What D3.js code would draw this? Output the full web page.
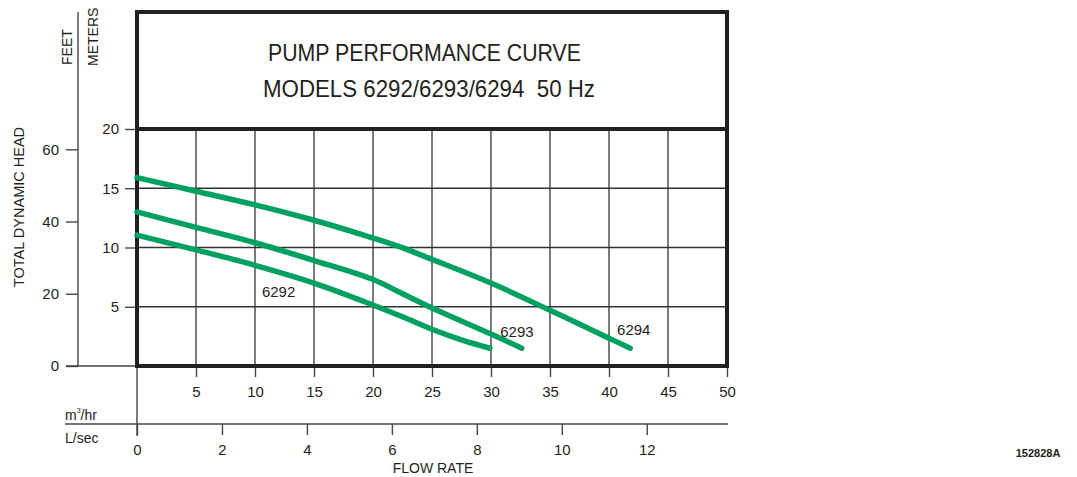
<!DOCTYPE html>
<html>
<head>
<meta charset="utf-8">
<script src="https://cdn.jsdelivr.net/npm/d3@7"></script>
<style>
  body { margin: 0; background: #fff; }
  svg { display: block; font-family: "Liberation Sans", Arial, sans-serif; }
  text { fill: #231f20; }
</style>
</head>
<body>
<div id="chart"></div>
<script>
// flow in m3/hr, head in meters
const models = ['6292', '6293', '6294'];
const flow6292 = [0, 5, 10, 15, 20, 22.5, 25, 27.5, 29.9];
const head6292 = [11.05, 9.8, 8.5, 7.0, 5.15, 4.15, 3.1, 2.2, 1.5];
const flow6293 = [0, 5, 10, 15, 20, 22.3, 25, 30, 32.6];
const head6293 = [13.0, 11.7, 10.4, 8.9, 7.3, 6.2, 4.9, 2.7, 1.5];
const flow6294 = [0, 5, 10, 15, 20, 22.3, 25, 30, 35, 40, 41.8];
const head6294 = [15.9, 14.75, 13.6, 12.3, 10.8, 10.05, 9.0, 7.0, 4.7, 2.35, 1.5];

const meterTicks = [5, 10, 15, 20];
const feetTicks = [0, 20, 40, 60];
const flowTicks = [5, 10, 15, 20, 25, 30, 35, 40, 45, 50];
const lsecTicks = [0, 2, 4, 6, 8, 10, 12];

const width = 1077;
const height = 477;
const ink = '#231f20';
const green = '#00a160';

const svg = d3.select('#chart').append('svg')
  .attr('width', width)
  .attr('height', height);

const frame = { left: 137, right: 727, top: 12, grid: 129, bottom: 366 };

const x = d3.scaleLinear().domain([0, 50]).range([frame.left, frame.right]);
const xL = d3.scaleLinear().domain([0, 50 / 3.6]).range([frame.left, frame.right]);
const yM = d3.scaleLinear().domain([0, 20]).range([frame.bottom, frame.grid]);
const yF = d3.scaleLinear().domain([0, 20 / 0.3048]).range([frame.bottom, frame.grid]);

const styleAxis = g => {
  g.select('.domain').remove();
  g.selectAll('.tick line').attr('stroke', '#444').attr('stroke-width', 1.4);
  g.selectAll('.tick text')
    .attr('fill', ink)
    .attr('font-size', 15)
    .attr('font-family', '"Liberation Sans", Arial, sans-serif');
};

// grid
const grid = svg.append('g').attr('stroke', '#333').attr('stroke-width', 1.3);
grid.selectAll('.vg')
  .data(flowTicks.slice(0, -1))
  .join('line')
  .attr('x1', d => x(d)).attr('x2', d => x(d))
  .attr('y1', frame.grid).attr('y2', frame.bottom);
grid.selectAll('.hg')
  .data(meterTicks.slice(0, -1))
  .join('line')
  .attr('x1', frame.left).attr('x2', frame.right)
  .attr('y1', d => yM(d)).attr('y2', d => yM(d));

// feet axis
svg.append('line')
  .attr('x1', 78).attr('x2', 78).attr('y1', 12).attr('y2', frame.bottom)
  .attr('stroke', '#444').attr('stroke-width', 1.4);
svg.append('line')
  .attr('x1', 66).attr('x2', frame.left).attr('y1', frame.bottom).attr('y2', frame.bottom)
  .attr('stroke', '#444').attr('stroke-width', 1.4);
svg.append('g')
  .attr('transform', 'translate(78,0)')
  .call(d3.axisLeft(yF).tickValues(feetTicks).tickSize(12).tickPadding(7))
  .call(styleAxis);

// meter axis
svg.append('g')
  .attr('transform', `translate(${frame.left},0)`)
  .call(d3.axisLeft(yM).tickValues(meterTicks).tickSize(12).tickPadding(6))
  .call(styleAxis);

// m3/hr axis
svg.append('g')
  .attr('transform', `translate(0,${frame.bottom})`)
  .call(d3.axisBottom(x).tickValues(flowTicks).tickSize(11).tickPadding(9))
  .call(styleAxis);

// L/sec axis
svg.append('line')
  .attr('x1', frame.left).attr('x2', frame.left).attr('y1', frame.bottom).attr('y2', 436)
  .attr('stroke', '#444').attr('stroke-width', 1.4);
svg.append('line')
  .attr('x1', 65).attr('x2', 728).attr('y1', 424).attr('y2', 424)
  .attr('stroke', '#444').attr('stroke-width', 1.4);
svg.append('g')
  .attr('transform', 'translate(0,424)')
  .call(d3.axisBottom(xL).tickValues(lsecTicks).tickSize(11).tickPadding(9))
  .call(styleAxis);

// frame
svg.append('rect')
  .attr('x', frame.left).attr('y', frame.top)
  .attr('width', frame.right - frame.left).attr('height', frame.bottom - frame.top)
  .attr('fill', 'none').attr('stroke', ink).attr('stroke-width', 4);
svg.append('line')
  .attr('x1', frame.left).attr('x2', frame.right)
  .attr('y1', frame.grid).attr('y2', frame.grid)
  .attr('stroke', ink).attr('stroke-width', 4);

// title, squeezed to match the condensed face of the original
svg.append('text')
  .attr('x', 268).attr('y', 61)
  .attr('font-size', 24)
  .attr('textLength', 313)
  .attr('lengthAdjust', 'spacingAndGlyphs')
  .text('PUMP PERFORMANCE CURVE');
svg.append('text')
  .attr('x', 263).attr('y', 97)
  .attr('font-size', 24)
  .attr('textLength', 332)
  .attr('lengthAdjust', 'spacingAndGlyphs')
  .style('white-space', 'pre')
  .text('MODELS 6292/6293/6294  50 Hz');

// curves
const series = [
  { name: models[0], flow: flow6292, head: head6292 },
  { name: models[1], flow: flow6293, head: head6293 },
  { name: models[2], flow: flow6294, head: head6294 },
];

const line = d3.line()
  .x(d => x(d[0]))
  .y(d => yM(d[1]))
  .curve(d3.curveCatmullRom.alpha(0.5));

svg.append('g')
  .selectAll('path')
  .data(series)
  .join('path')
  .attr('d', s => line(s.flow.map((f, i) => [f, s.head[i]])))
  .attr('fill', 'none')
  .attr('stroke', green)
  .attr('stroke-width', 5.5)
  .attr('stroke-linecap', 'round');

// model labels (flow, head) where each name sits
const labelAt = { 6292: [12, 5.85], 6293: [32.2, 2.45], 6294: [42.1, 2.65] };
svg.append('g')
  .selectAll('text')
  .data(series)
  .join('text')
  .attr('x', s => x(labelAt[s.name][0]))
  .attr('y', s => yM(labelAt[s.name][1]))
  .attr('text-anchor', 'middle')
  .attr('font-size', 15)
  .text(s => s.name);

// axis titles
svg.append('text')
  .attr('transform', 'translate(24,207) rotate(-90)')
  .attr('text-anchor', 'middle')
  .attr('font-size', 14.5)
  .text('TOTAL DYNAMIC HEAD');
svg.append('text')
  .attr('transform', 'translate(72,65) rotate(-90)')
  .attr('font-size', 14)
  .text('FEET');
svg.append('text')
  .attr('transform', 'translate(98,66) rotate(-90)')
  .attr('font-size', 14)
  .text('METERS');

const unit = svg.append('text').attr('x', 65).attr('y', 420).attr('font-size', 14);
unit.append('tspan').text('m');
unit.append('tspan').attr('font-size', 7).attr('dy', -7).text('3');
unit.append('tspan').attr('dy', 7).text('/hr');

svg.append('text').attr('x', 65).attr('y', 443).attr('font-size', 14).text('L/sec');

svg.append('text')
  .attr('x', 433).attr('y', 473)
  .attr('text-anchor', 'middle')
  .attr('font-size', 14)
  .text('FLOW RATE');

svg.append('text')
  .attr('x', 1038).attr('y', 457)
  .attr('text-anchor', 'middle')
  .attr('font-size', 11)
  .attr('font-weight', 'bold')
  .text('152828A');
</script>
</body>
</html>
